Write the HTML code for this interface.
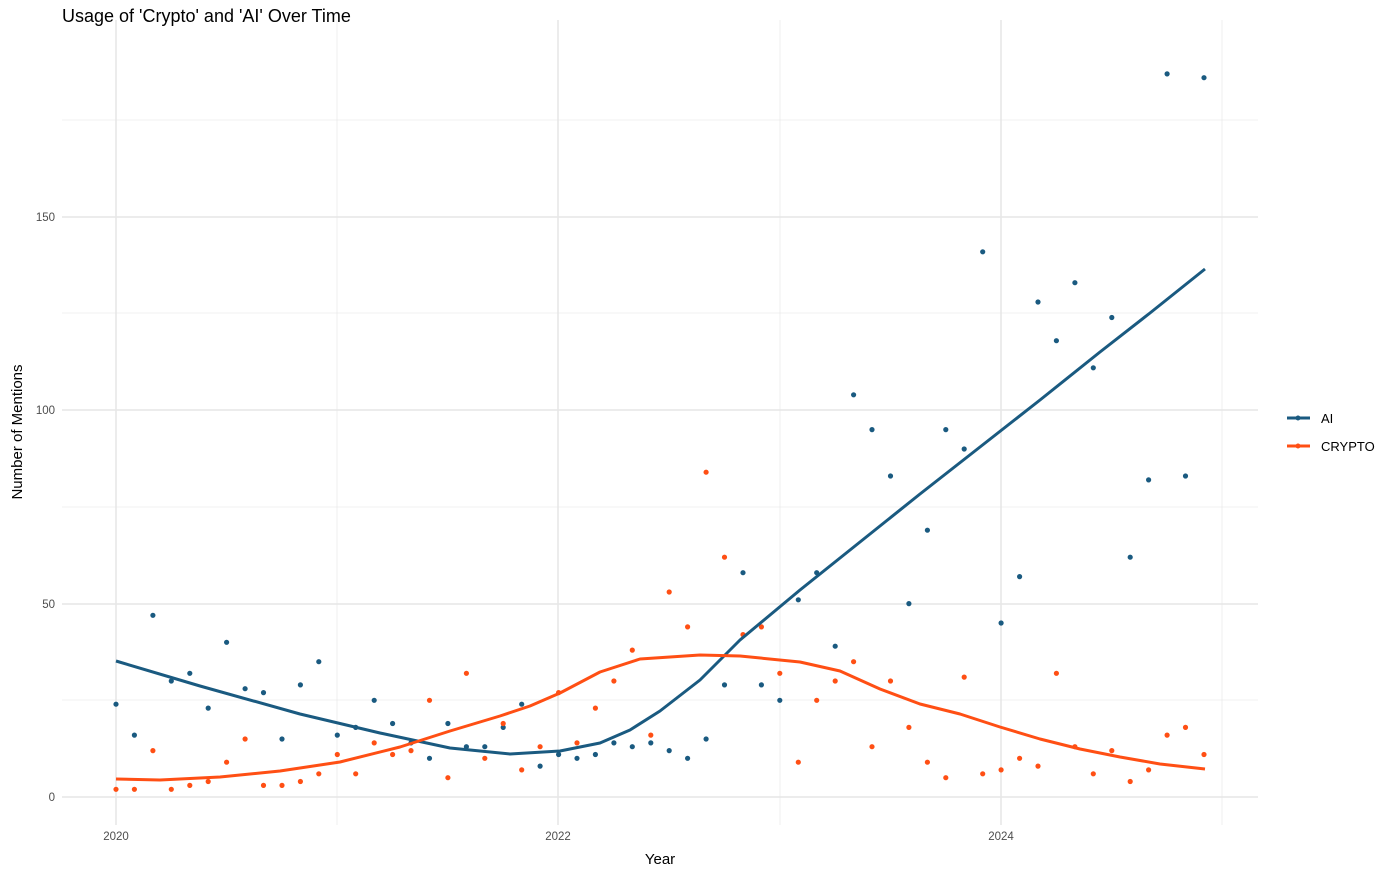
<!DOCTYPE html>
<html><head><meta charset="utf-8"><style>body{margin:0;background:#fff}svg{display:block;font-family:"Liberation Sans",sans-serif}</style></head>
<body>
<svg width="1400" height="877" xmlns="http://www.w3.org/2000/svg">
<rect width="1400" height="877" fill="#fff"/>
<g stroke="#ebebeb" stroke-width="0.8">
<line x1="62" x2="1258" y1="700" y2="700"/><line x1="62" x2="1258" y1="507" y2="507"/><line x1="62" x2="1258" y1="313" y2="313"/><line x1="62" x2="1258" y1="120" y2="120"/>
<line x1="337" x2="337" y1="20" y2="825"/><line x1="780" x2="780" y1="20" y2="825"/><line x1="1222" x2="1222" y1="20" y2="825"/>
</g>
<g stroke="#e6e6e6" stroke-width="1.5">
<line x1="62" x2="1258" y1="797" y2="797"/><line x1="62" x2="1258" y1="604" y2="604"/><line x1="62" x2="1258" y1="410" y2="410"/><line x1="62" x2="1258" y1="217" y2="217"/>
<line x1="116" x2="116" y1="20" y2="825"/><line x1="558" x2="558" y1="20" y2="825"/><line x1="1001" x2="1001" y1="20" y2="825"/>
</g>
<g font-size="11.5" fill="#4d4d4d" text-anchor="end">
<text x="55" y="801">0</text><text x="55" y="608">50</text><text x="55" y="414">100</text><text x="55" y="221">150</text>
</g>
<g font-size="11.5" fill="#4d4d4d" text-anchor="middle">
<text x="116" y="840">2020</text><text x="558" y="840">2022</text><text x="1001" y="840">2024</text>
</g>
<text x="660" y="864" font-size="15" text-anchor="middle" fill="#000">Year</text>
<text transform="translate(22,432) rotate(-90)" font-size="15" text-anchor="middle" fill="#000">Number of Mentions</text>
<text x="62" y="22" font-size="18" fill="#000">Usage of 'Crypto' and 'AI' Over Time</text>
<path fill="none" stroke="#1a5a80" stroke-width="5.2" stroke-linecap="round" d="M116 704.2h0M134.4 735.1h0M152.9 615.3h0M171.3 681h0M189.8 673.3h0M208.2 708.1h0M226.6 642.3h0M245.1 688.7h0M263.5 692.6h0M282 739h0M300.4 684.9h0M318.8 661.7h0M337.3 735.1h0M355.7 727.4h0M374.2 700.3h0M392.6 723.5h0M411 742.9h0M429.5 758.3h0M447.9 723.5h0M466.4 746.7h0M484.8 746.7h0M503.2 727.4h0M521.7 704.2h0M540.1 766.1h0M558.6 754.5h0M577 758.3h0M595.4 754.5h0M613.9 742.9h0M632.3 746.7h0M650.8 742.9h0M669.2 750.6h0M687.6 758.3h0M706.1 739h0M724.5 684.9h0M743 572.7h0M761.4 684.9h0M779.8 700.3h0M798.3 599.8h0M816.7 572.7h0M835.2 646.2h0M853.6 394.8h0M872 429.6h0M890.5 476h0M908.9 603.6h0M927.4 530.2h0M945.8 429.6h0M964.2 449h0M982.7 251.8h0M1001.1 623h0M1019.6 576.6h0M1038 302h0M1056.4 340.7h0M1074.9 282.7h0M1093.3 367.8h0M1111.8 317.5h0M1130.2 557.2h0M1148.6 479.9h0M1167.1 73.9h0M1185.5 476h0M1204 77.7h0"/>
<path fill="none" stroke="#ff4f14" stroke-width="5.2" stroke-linecap="round" d="M116 789.3h0M134.4 789.3h0M152.9 750.6h0M171.3 789.3h0M189.8 785.4h0M208.2 781.5h0M226.6 762.2h0M245.1 739h0M263.5 785.4h0M282 785.4h0M300.4 781.5h0M318.8 773.8h0M337.3 754.5h0M355.7 773.8h0M374.2 742.9h0M392.6 754.5h0M411 750.6h0M429.5 700.3h0M447.9 777.7h0M466.4 673.3h0M484.8 758.3h0M503.2 723.5h0M521.7 769.9h0M540.1 746.7h0M558.6 692.6h0M577 742.9h0M595.4 708.1h0M613.9 681h0M632.3 650.1h0M650.8 735.1h0M669.2 592h0M687.6 626.9h0M706.1 472.2h0M724.5 557.2h0M743 634.6h0M761.4 626.9h0M779.8 673.3h0M798.3 762.2h0M816.7 700.3h0M835.2 681h0M853.6 661.7h0M872 746.7h0M890.5 681h0M908.9 727.4h0M927.4 762.2h0M945.8 777.7h0M964.2 677.1h0M982.7 773.8h0M1001.1 769.9h0M1019.6 758.3h0M1038 766.1h0M1056.4 673.3h0M1074.9 746.7h0M1093.3 773.8h0M1111.8 750.6h0M1130.2 781.5h0M1148.6 769.9h0M1167.1 735.1h0M1185.5 727.4h0M1204 754.5h0"/>
<polyline fill="none" stroke="#1a5a80" stroke-width="3" stroke-linejoin="round" points="116,661 200,686 300,714 380,733 450,748 510,754 560,751 600,743 630,730 660,711 700,680 740,640 800,590 860,542 920,494 980,447 1040,400 1100,352 1150,313 1205,269"/>
<polyline fill="none" stroke="#ff4f14" stroke-width="3" stroke-linejoin="round" points="116,779 160,780 220,777 280,771 340,762 400,747 450,731 500,716 530,706 560,693 600,672 640,659 700,655 740,656 800,662 840,671 880,689 920,704 960,714 1000,727 1040,739 1080,749 1120,757 1160,764 1205,769"/>
<g stroke-width="3"><line x1="1287" x2="1310" y1="418" y2="418" stroke="#1a5a80"/><circle cx="1298" cy="418" r="2.5" fill="#1a5a80"/>
<line x1="1287" x2="1310" y1="446" y2="446" stroke="#ff4f14"/><circle cx="1298" cy="446" r="2.5" fill="#ff4f14"/></g>
<text x="1321" y="423" font-size="13">AI</text><text x="1321" y="451" font-size="13">CRYPTO</text>
</svg>
</body></html>
